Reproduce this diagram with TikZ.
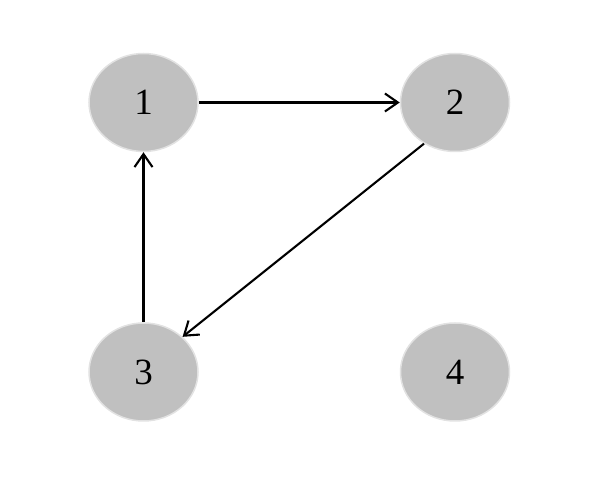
\documentclass[tikz,border=0pt]{standalone}
\usepackage{fontspec}
\setmainfont{Liberation Serif}
\usetikzlibrary{shapes.geometric,arrows.meta}
\definecolor{nodefill}{HTML}{C0C0C0}
\definecolor{nodeedge}{HTML}{E2E2E2}
\begin{document}
\begin{tikzpicture}[x=1pt,y=-1pt,
  vtx/.style={ellipse,fill=nodefill,draw=nodeedge,line width=1.5pt,minimum width=109pt,minimum height=98pt,inner sep=0pt,font=\fontsize{37}{40}\selectfont},
  edge/.style={line width=2.1pt,-{Straight Barb[length=13pt,width=18pt,line width=2.1pt]}}]
\useasboundingbox (0,0) rectangle (590,494);
\node[vtx] (n1) at (143.5,102.5) {1};
\node[vtx] (n2) at (455,102.5) {2};
\node[vtx] (n3) at (143.5,372) {3};
\node[vtx] (n4) at (455,372) {4};
\draw[edge] (n1) -- (n2);
\draw[edge] (n2.233) -- (n3.42);
\draw[edge] (n3) -- (n1);
\end{tikzpicture}
\end{document}
